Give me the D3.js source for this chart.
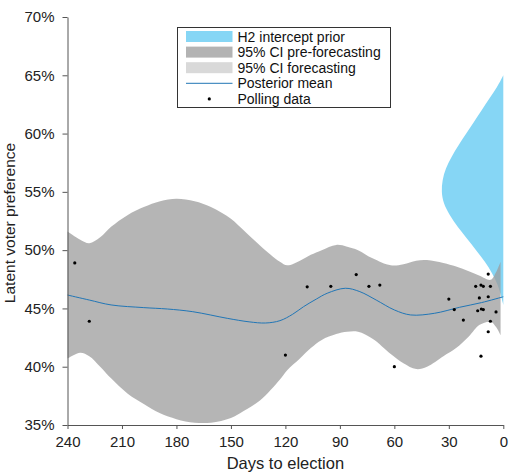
<!DOCTYPE html>
<html>
<head>
<meta charset="utf-8">
<script src="https://cdn.jsdelivr.net/npm/d3@7"></script>
<style>
  body { margin: 0; background: #fff; }
  text { font-family: "Liberation Sans", Arial, sans-serif; }
</style>
</head>
<body>
<svg id="chart"></svg>
<script>
// days before the election for the credible band
var bandDays = [240, 233, 228, 222, 216, 207, 198, 189, 180, 170, 161, 150, 143, 134, 123, 119, 112, 106, 100, 92, 86, 80, 72, 62, 55, 48, 42, 33, 26, 19, 13, 7, 4, 1.5];
var bandHi = [51.6, 50.9, 50.6, 51.1, 52.0, 53.0, 53.7, 54.2, 54.4, 54.2, 53.7, 52.7, 51.7, 50.4, 49.0, 48.7, 49.1, 49.6, 50.0, 50.45, 50.3, 50.0, 49.3, 48.7, 48.8, 49.1, 49.15, 48.9, 48.6, 48.2, 47.8, 47.45, 48.1, 49.0];
var bandLo = [40.7, 41.2, 40.9, 40.0, 39.0, 37.7, 36.8, 36.0, 35.5, 35.2, 35.2, 35.6, 36.2, 37.1, 38.9, 39.7, 40.7, 41.6, 42.3, 42.8, 43.0, 43.0, 42.4, 41.1, 40.3, 39.8, 40.0, 40.9, 41.6, 42.6, 43.6, 43.85, 43.4, 42.7];

// posterior mean
var meanDays = [240, 228, 216, 198, 185, 171, 152, 140, 131, 123, 116, 110, 103, 97, 87, 79, 70, 60, 51, 38, 24, 12, 0];
var meanVals = [46.15, 45.72, 45.3, 45.07, 44.95, 44.72, 44.15, 43.85, 43.75, 43.95, 44.5, 45.15, 45.8, 46.3, 46.73, 46.44, 45.72, 44.87, 44.44, 44.58, 45.1, 45.5, 46.0];

// polls
var pollDays = [236, 228, 120, 108, 95, 81, 74, 68, 60, 30, 27, 22, 15.2, 14.1, 13.2, 12.3, 12.3, 12.1, 11, 11, 8.3, 8.3, 8.3, 7.1, 7.1, 4];
var pollVals = [48.9, 43.9, 41.0, 46.85, 46.9, 47.9, 46.9, 47.0, 40.0, 45.8, 44.9, 44.0, 46.9, 44.8, 45.9, 47.0, 40.9, 44.95, 46.9, 44.9, 47.95, 46.0, 43.0, 46.9, 43.9, 44.7];

// H2 intercept prior, drawn sideways at election day (width in days)
var priorPct = [65, 64, 63, 62, 61, 60, 59, 58, 57, 56, 55, 54, 53, 52, 51, 50, 49, 48, 47, 46, 45.3];
var priorWidth = [0, 3.3, 7.7, 11.9, 16.2, 20.4, 24.7, 28.6, 31.8, 33.6, 34.1, 33.0, 29.5, 25.3, 20.0, 15.0, 10.0, 6.0, 2.9, 1.1, 0];

var xTicks = [240, 210, 180, 150, 120, 90, 60, 30, 0];
var yTicks = [35, 40, 45, 50, 55, 60, 65, 70];

var legendLabels = ["H2 intercept prior", "95% CI pre-forecasting", "95% CI forecasting", "Posterior mean", "Polling data"];

var totalWidth = 511, totalHeight = 472;
var margin = { top: 17, right: 7.7, bottom: 47, left: 67.5 };

var svg = d3.select("#chart")
    .attr("width", totalWidth)
    .attr("height", totalHeight);

var x = d3.scaleLinear().domain([240, 0]).range([margin.left, totalWidth - margin.right]);
var y = d3.scaleLinear().domain([35, 70]).range([totalHeight - margin.bottom, margin.top]);

var blue = "#86d6f5";

// prior
var prior = priorPct.map(function (p, i) { return { p: p, w: priorWidth[i] }; });
svg.append("path")
    .datum(prior)
    .attr("fill", blue)
    .attr("d", d3.area()
        .curve(d3.curveBasis)
        .y(function (d) { return y(d.p); })
        .x0(x(0))
        .x1(function (d) { return x(d.w); }));

// band
var band = bandDays.map(function (d, i) { return { d: d, lo: bandLo[i], hi: bandHi[i] }; });
svg.append("path")
    .datum(band)
    .attr("fill", "#9c9c9c")
    .attr("fill-opacity", 0.75)
    .attr("d", d3.area()
        .curve(d3.curveCatmullRom)
        .x(function (d) { return x(d.d); })
        .y0(function (d) { return y(d.lo); })
        .y1(function (d) { return y(d.hi); }));

// mean
var mean = meanDays.map(function (d, i) { return { d: d, v: meanVals[i] }; });
svg.append("path")
    .datum(mean)
    .attr("fill", "none")
    .attr("stroke", "#2176b5")
    .attr("stroke-width", 1)
    .attr("d", d3.line()
        .curve(d3.curveCatmullRom)
        .x(function (d) { return x(d.d); })
        .y(function (d) { return y(d.v); }));

// polls
svg.selectAll(".poll")
    .data(pollDays)
    .enter()
    .append("circle")
    .attr("class", "poll")
    .attr("cx", function (d) { return x(d); })
    .attr("cy", function (d, i) { return y(pollVals[i]); })
    .attr("r", 1.6)
    .attr("fill", "#000");

// axes
var xAxis = svg.append("g")
    .attr("transform", "translate(0," + y(35) + ")")
    .call(d3.axisBottom(x).tickValues(xTicks).tickSize(4).tickSizeOuter(0).tickPadding(7));
var yAxis = svg.append("g")
    .attr("transform", "translate(" + x(240) + ",0)")
    .call(d3.axisLeft(y).tickValues(yTicks).tickSize(5).tickSizeOuter(0).tickPadding(8)
        .tickFormat(function (d) { return d + "%"; }));

[xAxis, yAxis].forEach(function (a) {
    a.select(".domain").attr("stroke", "#555");
    a.selectAll(".tick line").attr("stroke", "#555");
    a.selectAll(".tick text").attr("fill", "#222").style("font-size", "15px")
        .style("font-family", "'Liberation Sans', Arial, sans-serif");
});

svg.append("text")
    .attr("x", (x(240) + x(0)) / 2)
    .attr("y", 469)
    .attr("text-anchor", "middle")
    .attr("fill", "#222")
    .style("font-size", "16.5px")
    .text("Days to election");

svg.append("text")
    .attr("transform", "translate(15," + 223 + ") rotate(-90)")
    .attr("text-anchor", "middle")
    .attr("fill", "#222")
    .style("font-size", "15.5px")
    .text("Latent voter preference");

// legend
var lg = svg.append("g");
lg.append("rect")
    .attr("x", 177.5).attr("y", 27.5)
    .attr("width", 213).attr("height", 80)
    .attr("fill", "#fff")
    .attr("stroke", "#333");

var swatchFill = [blue, "#b3b3b3", "#d9d9d9"];
legendLabels.forEach(function (t, i) {
    var cy = 36.5 + i * 15.6;
    if (i < 3) {
        lg.append("rect")
            .attr("x", 186).attr("y", cy - 5.5)
            .attr("width", 46.5).attr("height", 11)
            .attr("fill", swatchFill[i]);
    } else if (i == 3) {
        lg.append("line")
            .attr("x1", 186).attr("x2", 232.5)
            .attr("y1", cy).attr("y2", cy)
            .attr("stroke", "#2176b5").attr("stroke-width", 1);
    } else {
        lg.append("circle")
            .attr("cx", 209.3).attr("cy", cy)
            .attr("r", 1.6).attr("fill", "#000");
    }
    lg.append("text")
        .attr("x", 237.5)
        .attr("y", cy + 5)
        .attr("fill", "#111")
        .style("font-size", "14px")
        .text(t);
});
</script>
</body>
</html>
